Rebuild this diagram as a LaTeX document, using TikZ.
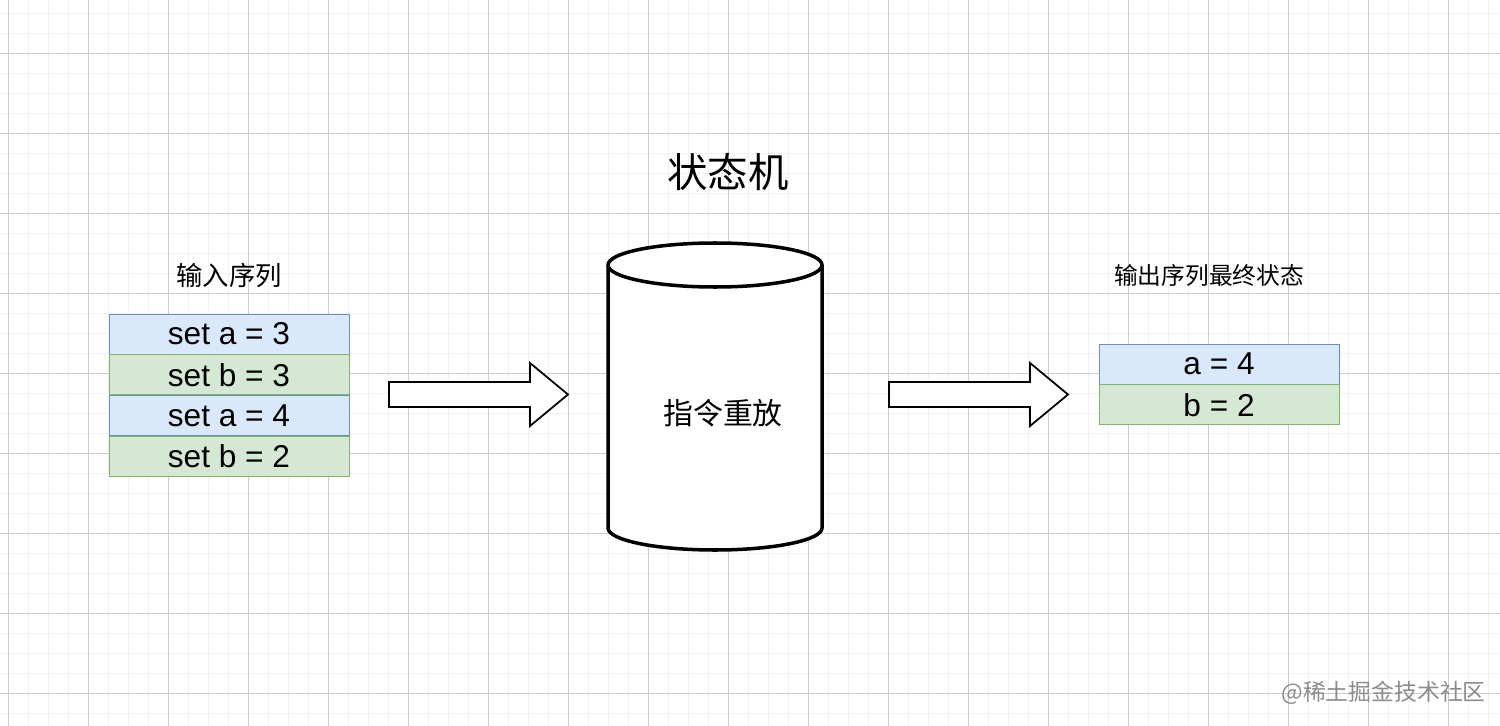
\documentclass[tikz,border=0pt]{standalone}
\usepackage{fontspec}
\setmainfont{Liberation Sans}
\newfontfamily\cjk{Noto Sans CJK SC}
\usetikzlibrary{positioning}
\definecolor{bluefill}{HTML}{DAE8FC}
\definecolor{blueline}{HTML}{6C8EBF}
\definecolor{greenfill}{HTML}{D5E8D4}
\definecolor{greenline}{HTML}{82B366}
\begin{document}
\begin{tikzpicture}[x=0.02cm, y=-0.02cm,
    cell/.style={draw, minimum width=4.8cm, minimum height=0.8cm, inner sep=0pt,
      font=\fontsize{18}{20}\selectfont},
    bluecell/.style={cell, fill=bluefill, draw=blueline},
    greencell/.style={cell, fill=greenfill, draw=greenline},
    caption/.style={font=\cjk\fontsize{#1}{#1}\selectfont},
    blockarrow/.style={draw, line width=1pt, fill=white},
  ]
  \useasboundingbox (0,0) rectangle (1500,726);
  % grid
  \foreach \gx in {8,28,...,1500} \draw[black!5] (\gx,0) -- (\gx,726);
  \foreach \gy in {13,33,...,726} \draw[black!5] (0,\gy) -- (1500,\gy);
  \foreach \gx in {8,88,...,1500} \draw[black!20] (\gx,0) -- (\gx,726);
  \foreach \gy in {53,133,...,726} \draw[black!20] (0,\gy) -- (1500,\gy);

  % input sequence
  \node[bluecell] (in1) at (229,334) {set a = 3};
  \node[greencell, below=0pt of in1] (in2) {set b = 3};
  \node[bluecell, below=0pt of in2] (in3) {set a = 4};
  \node[greencell, below=0pt of in3] (in4) {set b = 2};
  \node[caption=15] (intitle) at (229,275) {输入序列};

  % state machine
  \node[caption=23] (smtitle) at (728,172) {状态机};
  \draw[line width=2pt, fill=white] (608,265) -- (608,528) arc[start angle=180, end angle=0, x radius=107, y radius=22]
    -- (822,265) arc[start angle=0, end angle=-180, x radius=107, y radius=22] -- cycle;
  \draw[line width=2pt] (608,265) arc[start angle=180, end angle=0, x radius=107, y radius=22];
  \node[caption=17] (replay) at (723,413) {指令重放};

  % output state
  \node[bluecell] (out1) at (1219,364) {a = 4};
  \node[greencell, below=0pt of out1] (out2) {b = 2};
  \node[caption=13.5] (outtitle) at (1209,275) {输出序列最终状态};

  % arrows
  \foreach \ax in {389,889}
    \draw[blockarrow] (\ax,382) -- ++(141,0) -- ++(0,-19) -- ++(38,31.5) -- ++(-38,31.5)
      -- ++(0,-19) -- ++(-141,0) -- cycle;

  \node[caption=13, text=black!45, anchor=east] (mark) at (1492,693) {@稀土掘金技术社区};
\end{tikzpicture}
\end{document}
